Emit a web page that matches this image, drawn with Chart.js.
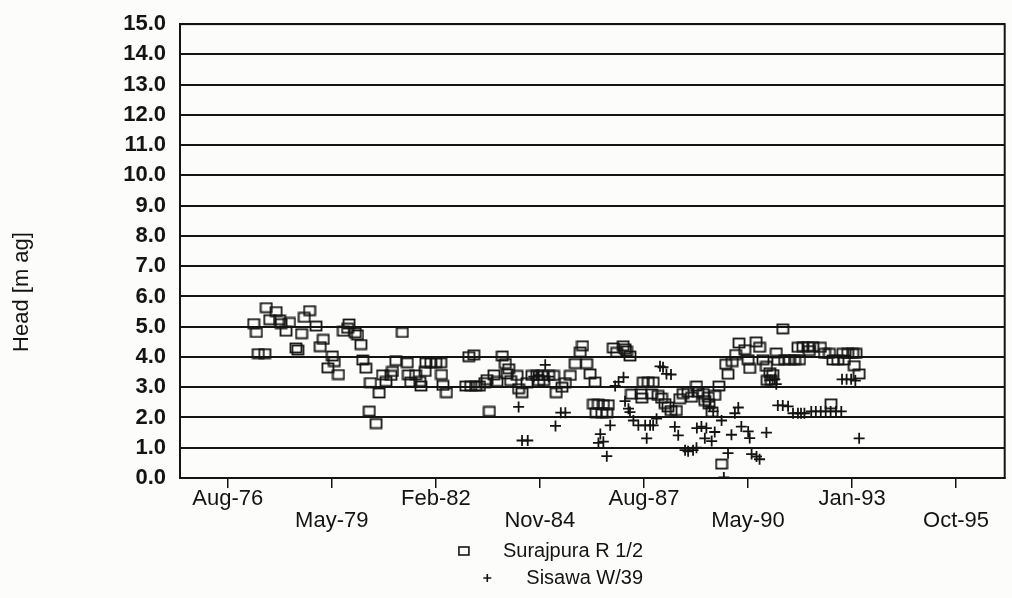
<!DOCTYPE html>
<html>
<head>
<meta charset="utf-8">
<script src="https://cdn.jsdelivr.net/npm/chart.js@4.4.1/dist/chart.umd.min.js"></script>
<style>
  html, body { margin: 0; padding: 0; background: #fcfcfb; }
  #wrap { width: 1012px; height: 598px; }
</style>
</head>
<body>
<div id="wrap"><canvas id="headChart" width="1012" height="598"></canvas></div>
<script>
// observation dates as decimal years, heads in m above ground
const surajpuraYear = [
  1977.34, 1977.41, 1977.46, 1977.63, 1977.67, 1977.76, 1977.93, 1978.02, 1978.06, 1978.19,
  1978.28, 1978.45, 1978.50, 1978.60, 1978.67, 1978.81, 1978.98, 1979.09, 1979.17, 1979.29,
  1979.41, 1979.46, 1979.57, 1979.70, 1979.81, 1979.85, 1980.01, 1980.07, 1980.16, 1980.21,
  1980.29, 1980.38, 1980.41, 1980.56, 1980.64, 1980.73, 1980.82, 1980.95, 1980.99, 1981.08,
  1981.25, 1981.38, 1981.41, 1981.47, 1981.60, 1981.71, 1981.74, 1981.85, 1981.87, 1982.00,
  1982.13, 1982.26, 1982.28, 1982.32, 1982.41, 1982.92, 1983.00, 1983.05, 1983.13, 1983.18,
  1983.28, 1983.42, 1983.48, 1983.54, 1983.66, 1983.74, 1983.88, 1983.96, 1984.01, 1984.05,
  1984.10, 1984.27, 1984.31, 1984.40, 1984.53, 1984.66, 1984.79, 1984.84, 1984.92, 1984.97,
  1985.10, 1985.23, 1985.30, 1985.45, 1985.54, 1985.67, 1985.80, 1985.93, 1985.99, 1986.10,
  1986.19, 1986.32, 1986.28, 1986.35, 1986.41, 1986.50, 1986.54, 1986.63, 1986.67, 1986.80,
  1986.89, 1987.06, 1987.11, 1987.15, 1987.24, 1987.28, 1987.53, 1987.55, 1987.59, 1987.72,
  1987.85, 1987.81, 1987.98, 1988.07, 1988.16, 1988.24, 1988.32, 1988.46, 1988.55, 1988.64,
  1988.77, 1988.86, 1988.99, 1989.03, 1989.17, 1989.21, 1989.30, 1989.32, 1989.40, 1989.47,
  1989.58, 1989.65, 1989.76, 1989.82, 1989.93, 1990.02, 1990.11, 1990.26, 1990.35, 1990.39,
  1990.56, 1990.65, 1990.74, 1990.83, 1990.85, 1990.92, 1990.96, 1991.00, 1991.09, 1991.13,
  1991.26, 1991.31, 1991.44, 1991.57, 1991.70, 1991.66, 1991.79, 1991.92, 1991.96, 1992.05,
  1992.25, 1992.36, 1992.49, 1992.53, 1992.58, 1992.71, 1992.84, 1992.88, 1992.97, 1993.10,
  1993.19, 1993.14, 1993.27
]
const surajpuraHead = [
  5.10, 4.81, 4.11, 4.11, 5.63, 5.23, 5.50, 5.23, 5.10, 4.85,
  5.14, 4.30, 4.23, 4.77, 5.31, 5.53, 5.02, 4.34, 4.58, 3.64,
  4.03, 3.85, 3.42, 4.85, 4.95, 5.09, 4.80, 4.73, 4.41, 3.90,
  3.63, 2.21, 3.15, 1.80, 2.81, 3.41, 3.19, 3.39, 3.52, 3.88,
  4.81, 3.81, 3.41, 3.17, 3.41, 3.19, 3.04, 3.52, 3.81, 3.81,
  3.81, 3.81, 3.42, 3.06, 2.82, 3.04, 4.01, 3.04, 4.07, 3.04,
  3.04, 3.15, 3.25, 2.20, 3.41, 3.19, 4.03, 3.78, 3.44, 3.61,
  3.22, 3.39, 2.95, 2.82, 3.15, 3.39, 3.39, 3.22, 3.39, 3.22,
  3.39, 3.39, 2.82, 3.00, 3.15, 3.39, 3.78, 4.16, 4.37, 3.78,
  3.44, 3.17, 2.44, 2.16, 2.44, 2.16, 2.42, 2.16, 2.42, 4.30,
  4.15, 4.37, 4.27, 4.20, 4.03, 2.77, 2.78, 2.64, 3.17, 3.17,
  3.17, 2.78, 2.73, 2.64, 2.46, 2.35, 2.23, 2.23, 2.62, 2.79,
  2.84, 2.67, 3.04, 2.84, 2.79, 2.56, 2.67, 2.45, 2.18, 2.73,
  3.04, 0.46, 3.76, 3.43, 3.85, 4.08, 4.46, 4.24, 3.91, 3.62,
  4.50, 4.32, 3.91, 3.69, 3.23, 3.48, 3.23, 3.42, 4.13, 3.89,
  4.93, 3.91, 3.91, 3.91, 3.91, 4.32, 4.34, 4.34, 4.21, 4.34,
  4.32, 4.12, 4.12, 2.45, 3.90, 3.90, 4.12, 3.90, 4.12, 4.12,
  4.12, 3.71, 3.44
]

const sisawaYear = [
  1984.31, 1984.40, 1984.55, 1984.71, 1984.84, 1985.01, 1985.10, 1985.28, 1985.42, 1985.54,
  1986.41, 1986.46, 1986.54, 1986.63, 1986.72, 1986.85, 1986.94, 1987.07, 1987.11, 1987.20,
  1987.24, 1987.33, 1987.46, 1987.64, 1987.68, 1987.77, 1987.85, 1987.94, 1988.03, 1988.11,
  1988.20, 1988.32, 1988.42, 1988.51, 1988.69, 1988.77, 1988.90, 1988.99, 1989.00, 1989.12,
  1989.21, 1989.25, 1989.34, 1989.39, 1989.43, 1989.47, 1989.65, 1989.71, 1989.82, 1989.91,
  1990.00, 1990.09, 1990.17, 1990.35, 1990.39, 1990.44, 1990.57, 1990.65, 1990.83, 1990.92,
  1991.05, 1991.09, 1991.13, 1991.26, 1991.40, 1991.53, 1991.66, 1991.74, 1991.83, 1992.01,
  1992.13, 1992.26, 1992.39, 1992.52, 1992.66, 1992.80, 1992.82, 1992.94, 1993.06, 1993.17,
  1993.27
]
const sisawaHead = [
  2.35, 1.24, 1.24, 3.35, 3.40, 3.74, 3.35, 1.72, 2.16, 2.16,
  1.16, 1.45, 1.20, 0.72, 1.74, 3.04, 3.18, 3.33, 2.54, 2.29,
  2.18, 1.90, 1.74, 1.74, 1.31, 1.74, 1.74, 1.96, 3.69, 3.66,
  3.44, 3.42, 1.69, 1.41, 0.92, 0.88, 0.92, 1.00, 1.65, 1.70,
  1.31, 1.65, 2.37, 1.22, 2.20, 1.52, 1.90, 0.02, 0.82, 1.43,
  2.14, 2.33, 1.70, 1.54, 1.32, 0.79, 0.71, 0.62, 1.50, 3.23,
  3.26, 3.10, 2.40, 2.40, 2.37, 2.14, 2.14, 2.14, 2.14, 2.20,
  2.20, 2.20, 2.20, 2.20, 2.20, 2.20, 3.26, 3.26, 3.26, 3.22,
  1.31
]

// date axis: one tick every 1000 days
const tickDates = ['1976-08-28', '1979-05-25', '1982-02-18', '1984-11-14', '1987-08-11', '1990-05-07', '1993-01-31', '1995-10-28']
const tickLabels = ['Aug-76', 'May-79', 'Feb-82', 'Nov-84', 'Aug-87', 'May-90', 'Jan-93', 'Oct-95']
const seriesNames = ['Surajpura R 1/2', 'Sisawa W/39']

const INK = '#141414'

function toYear(iso) {
  return 1970 + Date.parse(iso) / (365.25 * 86400000)
}

function zip(xs, ys) {
  return xs.map((x, i) => ({ x: x, y: ys[i] }))
}

// hollow box a little wider than tall
function boxMarker() {
  const c = document.createElement('canvas')
  c.width = 14
  c.height = 12
  const g = c.getContext('2d')
  g.strokeStyle = INK
  g.lineWidth = 1.8
  g.strokeRect(1.5, 1.5, 11, 9)
  return c
}

const tickYears = tickDates.map(toYear)

const extras = {
  id: 'extras',
  afterDraw(chart) {
    const { ctx, chartArea: a } = chart
    ctx.save()
    ctx.strokeStyle = INK
    ctx.lineWidth = 2
    ctx.strokeRect(a.left, a.top, a.right - a.left, a.bottom - a.top)

    // axis title
    ctx.fillStyle = INK
    ctx.font = '22px "Liberation Sans", Arial, sans-serif'
    ctx.textAlign = 'center'
    ctx.textBaseline = 'middle'
    ctx.translate(22, 292)
    ctx.rotate(-Math.PI / 2)
    ctx.fillText('Head [m ag]', 0, 0)
    ctx.restore()

    // legend rows: text ends on a common right edge, symbol in front of it
    ctx.save()
    ctx.fillStyle = INK
    ctx.strokeStyle = INK
    ctx.font = '20px "Liberation Sans", Arial, sans-serif'
    ctx.textBaseline = 'middle'
    ctx.textAlign = 'right'
    const textRight = 643
    const rows = [551, 578]
    seriesNames.forEach((name, i) => {
      const tw = ctx.measureText(name).width
      const sy = rows[i]
      const sx = textRight - tw - 39
      ctx.lineWidth = 1.6
      if (i === 0) {
        ctx.strokeRect(sx - 5, sy - 4, 10, 8)
      } else {
        ctx.beginPath()
        ctx.moveTo(sx - 4, sy); ctx.lineTo(sx + 4, sy)
        ctx.moveTo(sx, sy - 4); ctx.lineTo(sx, sy + 4)
        ctx.stroke()
      }
      ctx.fillText(name, textRight, sy)
    })
    ctx.restore()
  }
}

new Chart(document.getElementById('headChart'), {
  type: 'scatter',
  data: {
    datasets: [{
      label: seriesNames[0],
      data: zip(surajpuraYear, surajpuraHead),
      pointStyle: boxMarker(),
      borderColor: INK,
      backgroundColor: 'rgba(0,0,0,0)'
    }, {
      label: seriesNames[1],
      data: zip(sisawaYear, sisawaHead),
      pointStyle: 'cross',
      pointRadius: 5.5,
      borderWidth: 1.8,
      borderColor: INK,
      backgroundColor: INK
    }]
  },
  options: {
    responsive: false,
    animation: false,
    layout: { padding: { top: 0, right: 3, left: 0, bottom: 0 } },
    plugins: {
      legend: { display: false },
      tooltip: { enabled: false }
    },
    scales: {
      x: {
        type: 'linear',
        min: 1975.4,
        max: 1997.1,
        afterBuildTicks(scale) {
          scale.ticks = tickYears.map(v => ({ value: v }))
        },
        afterFit(scale) {
          scale.height = 120
        },
        ticks: {
          autoSkip: false,
          maxRotation: 0,
          padding: 0,
          color: INK,
          font: { family: '"Liberation Sans", Arial, sans-serif', size: 22, lineHeight: 1.0 },
          callback(value, index) {
            return index % 2 ? ['', tickLabels[index]] : tickLabels[index]
          }
        },
        grid: { drawOnChartArea: false, drawTicks: true, tickLength: 10, color: INK, lineWidth: 1.5 },
        border: { display: true, color: INK, width: 2 }
      },
      y: {
        min: 0,
        max: 15,
        afterFit(scale) {
          scale.width = 180
        },
        ticks: {
          stepSize: 1,
          padding: 14,
          color: INK,
          font: { family: '"Liberation Sans", Arial, sans-serif', size: 22, weight: 'bold', lineHeight: 0.92 },
          callback: v => v.toFixed(1)
        },
        grid: { color: INK, lineWidth: 2, drawTicks: false },
        border: { display: true, color: INK, width: 2 }
      }
    }
  },
  plugins: [extras]
})
</script>
</body>
</html>
